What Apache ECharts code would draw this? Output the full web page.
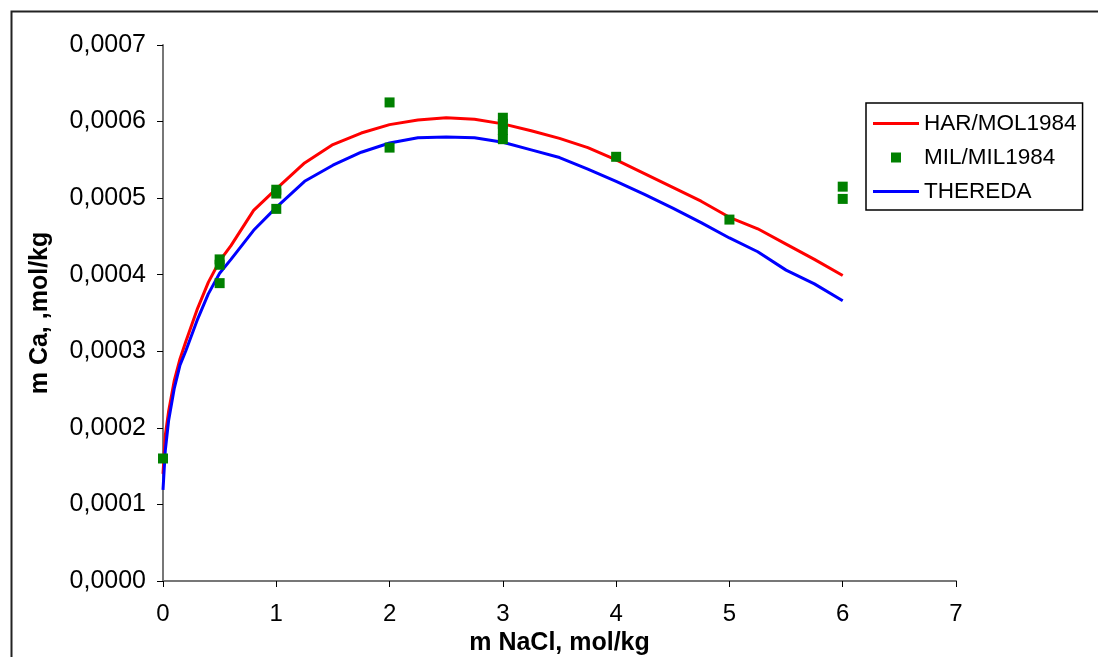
<!DOCTYPE html>
<html>
<head>
<meta charset="utf-8">
<script src="https://cdn.jsdelivr.net/npm/echarts@6/dist/echarts.min.js"></script>
<style>
html,body{margin:0;padding:0;background:#fff;}
#chart{width:1098px;height:657px;}
</style>
</head>
<body>
<div id="chart"></div>
<script>
// NaCl molality grid for the model curves (mol/kg)
var curveX = [0, 0.02, 0.05, 0.1, 0.15, 0.2, 0.3, 0.4, 0.5, 0.6, 0.8, 1.0, 1.25, 1.5, 1.75, 2.0, 2.25, 2.5, 2.75, 3.0, 3.25, 3.5, 3.75, 4.0, 4.25, 4.5, 4.75, 5.0, 5.25, 5.5, 5.75, 6.0];
// HAR/MOL1984 model: m Ca (mol/kg)
var harMol = [0.000140, 0.000190, 0.000222, 0.000262, 0.000290, 0.000312, 0.000354, 0.000390, 0.000418, 0.000438, 0.000484, 0.000512, 0.000546, 0.000570, 0.000585, 0.000596, 0.000602, 0.000605, 0.000603, 0.000597, 0.000588, 0.000578, 0.000566, 0.000550, 0.000532, 0.000514, 0.000496, 0.000475, 0.000460, 0.000440, 0.000420, 0.000399];
// THEREDA model: m Ca (mol/kg)
var thereda = [0.000119, 0.000170, 0.000210, 0.000252, 0.000282, 0.000300, 0.000340, 0.000375, 0.000402, 0.000420, 0.000458, 0.000488, 0.000522, 0.000543, 0.000560, 0.000572, 0.000579, 0.000580, 0.000579, 0.000573, 0.000563, 0.000553, 0.000538, 0.000522, 0.000505, 0.000487, 0.000468, 0.000448, 0.000430, 0.000406, 0.000388, 0.000366];
// MIL/MIL1984 experimental points
var milX = [0, 0.5, 0.5, 0.5, 1, 1, 1, 2, 2, 3, 3, 3, 3, 4, 5, 6, 6];
var milY = [0.000160, 0.000420, 0.000413, 0.000389, 0.000511, 0.000506, 0.000486, 0.000625, 0.000566, 0.000605, 0.000597, 0.000589, 0.000577, 0.000554, 0.000472, 0.000515, 0.000499];
var seriesNames = ['HAR/MOL1984', 'MIL/MIL1984', 'THEREDA'];
var xAxisTitle = 'm NaCl, mol/kg';
var yAxisTitle = 'm Ca, ,mol/kg';

function pairs(xs, ys) { return xs.map(function (x, i) { return [x, ys[i]]; }); }

var chart = echarts.init(document.getElementById('chart'), null, {renderer: 'canvas'});
var font = 'Liberation Sans, Arial, sans-serif';
var lineIcon = 'path://M0,0L46,0L46,3L0,3Z';
chart.setOption({
  animation: false,
  backgroundColor: '#fff',
  graphic: [{
    type: 'rect', left: 9, top: 9, z: -10,
    shape: {width: 1200, height: 800},
    style: {fill: 'none', stroke: '#222', lineWidth: 2}
  }],
  grid: {left: 163, top: 45, width: 793, height: 536, containLabel: false, outerBoundsMode: 'none'},
  legend: {
    orient: 'vertical', left: 866, top: 103,
    padding: [9, 6, 7, 7], itemGap: 11,
    itemWidth: 46, itemHeight: 10,
    borderColor: '#000', borderWidth: 1.5,
    textStyle: {fontFamily: font, fontSize: 22.5, color: '#000'},
    data: [
      {name: seriesNames[0], icon: lineIcon},
      {name: seriesNames[1], icon: 'path://M0,0L10,0L10,10L0,10Z'},
      {name: seriesNames[2], icon: lineIcon}
    ]
  },
  xAxis: {
    type: 'value', min: 0, max: 7, interval: 1,
    name: xAxisTitle, nameLocation: 'middle', nameGap: 46,
    nameTextStyle: {fontFamily: font, fontSize: 25, fontWeight: 'bold', color: '#000'},
    axisLine: {show: true, lineStyle: {color: '#777', width: 2}},
    axisTick: {show: true, length: 6, lineStyle: {color: '#000', width: 1}},
    axisLabel: {fontFamily: font, fontSize: 24, color: '#000', margin: 21},
    splitLine: {show: false}
  },
  yAxis: {
    type: 'value', min: 0, max: 0.0007, interval: 0.0001,
    name: yAxisTitle, nameLocation: 'middle', nameGap: 110, nameRotate: 90,
    nameTextStyle: {fontFamily: font, fontSize: 25, fontWeight: 'bold', color: '#000'},
    axisLine: {show: true, lineStyle: {color: '#777', width: 2}},
    axisTick: {show: true, length: 6, lineStyle: {color: '#000', width: 1}},
    axisLabel: {fontFamily: font, fontSize: 25, color: '#000', margin: 17,
      formatter: function (v) { return v.toFixed(4).replace('.', ','); }},
    splitLine: {show: false}
  },
  series: [
    {name: seriesNames[0], type: 'line', data: pairs(curveX, harMol), symbol: 'none',
     smooth: false, lineStyle: {color: '#ff0000', width: 3}, itemStyle: {color: '#ff0000'}, z: 2},
    {name: seriesNames[1], type: 'scatter', data: pairs(milX, milY), symbol: 'rect', symbolSize: 10,
     itemStyle: {color: '#008000', opacity: 1}, z: 3},
    {name: seriesNames[2], type: 'line', data: pairs(curveX, thereda), symbol: 'none',
     smooth: false, lineStyle: {color: '#0000ff', width: 3}, itemStyle: {color: '#0000ff'}, z: 2}
  ]
});
</script>
</body>
</html>
